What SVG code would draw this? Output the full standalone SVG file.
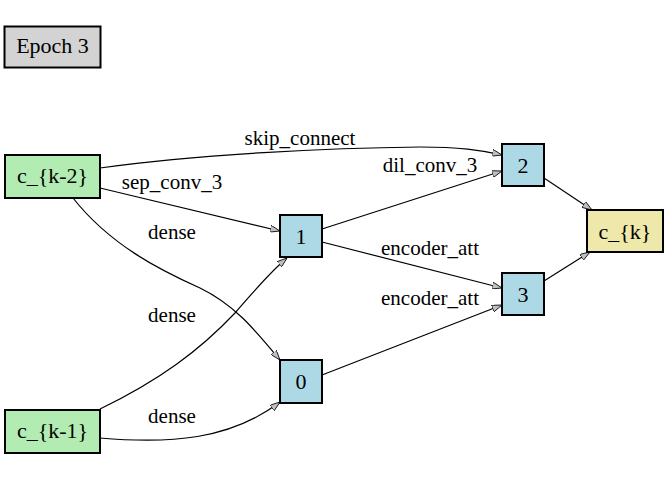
<svg xmlns="http://www.w3.org/2000/svg" width="668" height="480" viewBox="0 0 668 480">
<style>
text{font-family:"Liberation Serif","Times New Roman",serif;font-size:21px;fill:#000}
.n text{font-size:22px}
.n rect{stroke:#000;stroke-width:2}
.in rect{fill:#b3ecb3}
.op rect{fill:#add8e6}
.out rect{fill:#eee8aa}
.e path{fill:none;stroke:#000;stroke-width:1.2}
.c{text-anchor:middle}
</style>
<defs>
<marker id="a" viewBox="0 0 10 7" refX="10" refY="3.5" markerWidth="10" markerHeight="7" markerUnits="userSpaceOnUse" orient="auto">
<path d="M0,0 L10,3.5 L0,7 Z" fill="#c0c0c0" stroke="#000" stroke-width="0.8"/>
</marker>
</defs>
<rect width="668" height="480" fill="#fff"/>
<g id="epoch" class="n"><rect x="4.5" y="26.5" width="96" height="41" fill="#d3d3d3"/><text class="c" x="52.5" y="53">Epoch 3</text></g>
<g id="edges" class="e">
<path marker-end="url(#a)" d="M100,168 C200,154 330,148 420,147 C460,147 480,150 502,155"/>
<path marker-end="url(#a)" d="M100,188 L280,231"/>
<path marker-end="url(#a)" d="M73,198 C110,245 160,270 200,288 C235,305 255,330 280,360"/>
<path marker-end="url(#a)" d="M100,409 C160,380 200,350 235,313 C255,290 270,272 287,258"/>
<path marker-end="url(#a)" d="M100,438 C170,444 230,440 280,402"/>
<path marker-end="url(#a)" d="M322,229 L502,171"/>
<path marker-end="url(#a)" d="M322,242 L502,288"/>
<path marker-end="url(#a)" d="M322,375 L502,305"/>
<path marker-end="url(#a)" d="M544,178 L592,210"/>
<path marker-end="url(#a)" d="M544,281 L590,252"/>
</g>
<g id="labels">
<text class="c" x="300" y="145">skip_connect</text>
<text class="c" x="172" y="189">sep_conv_3</text>
<text class="c" x="172" y="239">dense</text>
<text class="c" x="172" y="322">dense</text>
<text class="c" x="172" y="423">dense</text>
<text class="c" x="430" y="172">dil_conv_3</text>
<text class="c" x="430" y="255">encoder_att</text>
<text class="c" x="430" y="305">encoder_att</text>
</g>
<g id="ck2" class="n in"><rect x="5" y="155" width="95" height="43"/><text class="c" x="52.5" y="183">c_{k-2}</text></g>
<g id="ck1" class="n in"><rect x="5" y="410" width="95" height="43"/><text class="c" x="52.5" y="438">c_{k-1}</text></g>
<g id="n0" class="n op"><rect x="280" y="360" width="42" height="43"/><text class="c" x="301" y="389">0</text></g>
<g id="n1" class="n op"><rect x="280" y="215" width="42" height="42"/><text class="c" x="301" y="243.5">1</text></g>
<g id="n2" class="n op"><rect x="502" y="144" width="42" height="42"/><text class="c" x="523" y="172.5">2</text></g>
<g id="n3" class="n op"><rect x="502" y="273" width="42" height="42"/><text class="c" x="523" y="301.5">3</text></g>
<g id="ck" class="n out"><rect x="587" y="210" width="76" height="42"/><text class="c" x="625" y="238.5">c_{k}</text></g>
</svg>
